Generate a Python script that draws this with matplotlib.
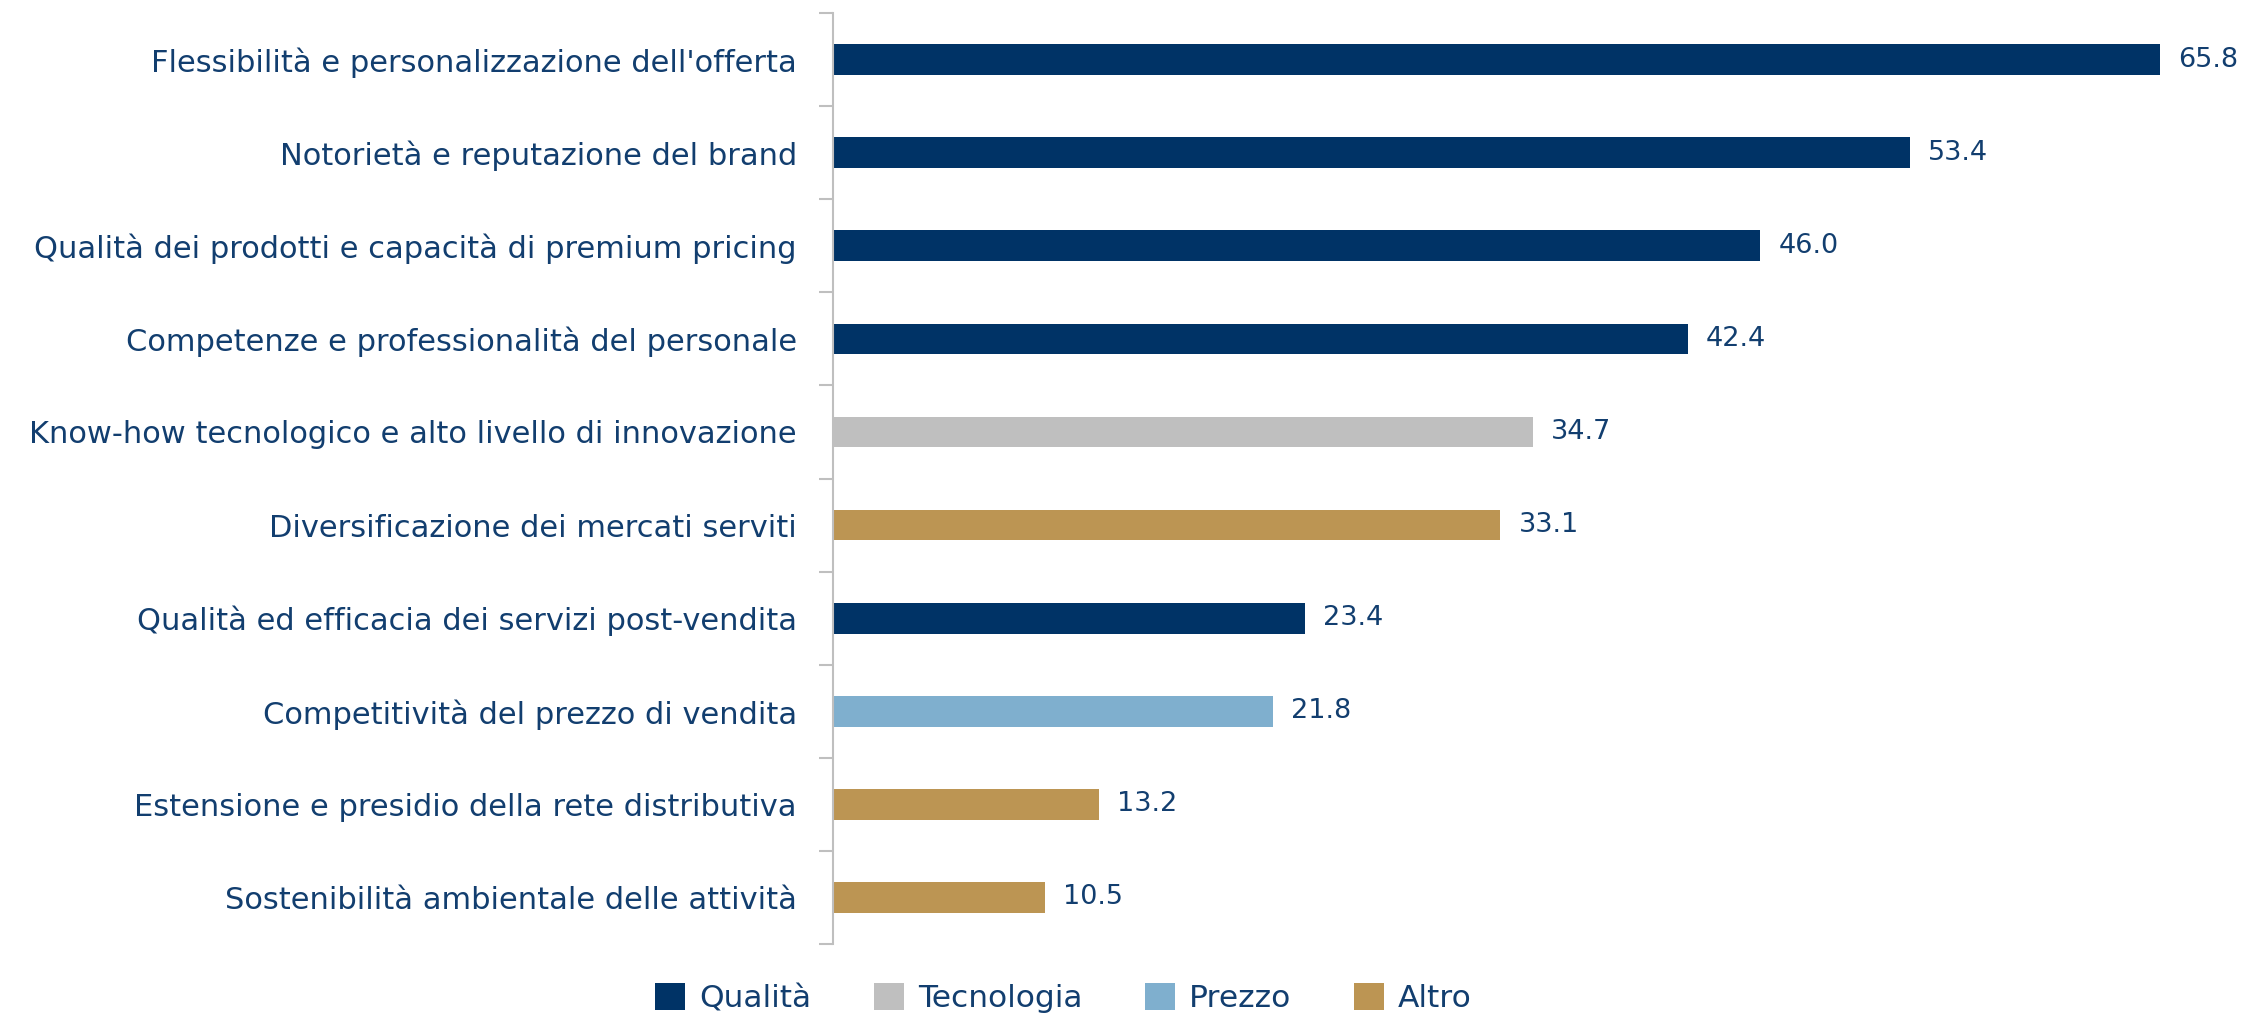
import numpy as np
import matplotlib.pyplot as plt
from matplotlib.patches import Patch

# Fattori competitivi (dall'alto in basso)
categories = [
    "Flessibilità e personalizzazione dell'offerta",
    "Notorietà e reputazione del brand",
    "Qualità dei prodotti e capacità di premium pricing",
    "Competenze e professionalità del personale",
    "Know-how tecnologico e alto livello di innovazione",
    "Diversificazione dei mercati serviti",
    "Qualità ed efficacia dei servizi post-vendita",
    "Competitività del prezzo di vendita",
    "Estensione e presidio della rete distributiva",
    "Sostenibilità ambientale delle attività",
]
values = [65.8, 53.4, 46.0, 42.4, 34.7, 33.1, 23.4, 21.8, 13.2, 10.5]
groups = ["Qualità", "Qualità", "Qualità", "Qualità", "Tecnologia",
          "Altro", "Qualità", "Prezzo", "Altro", "Altro"]

group_names = ["Qualità", "Tecnologia", "Prezzo", "Altro"]
group_colors = {"Qualità": "#003366", "Tecnologia": "#BFBFBF",
                "Prezzo": "#7FAFCE", "Altro": "#BC9553"}
text_color = "#123E6F"

plt.rcParams['font.family'] = ['DejaVu Sans']

fig = plt.figure(figsize=(22.44, 10.19), dpi=100)
ax = fig.add_axes([0.3712, 0.0736, 0.611, 0.9136])

y = np.arange(len(categories))
ax.barh(y, values, height=0.33, color=[group_colors[g] for g in groups])

for yi, v in zip(y, values):
    ax.text(v + 0.9, yi, f"{v:.1f}", va='center', ha='left',
            fontsize=19.5, color=text_color)

ax.set_xlim(0, 68)
ax.set_ylim(len(categories) - 0.5, -0.5)
ax.set_yticks(y)
ax.set_yticklabels(categories, fontsize=22, color=text_color)
ax.set_yticks(np.arange(len(categories) + 1) - 0.5, minor=True)
ax.tick_params(axis='y', which='major', length=0, pad=26)
ax.tick_params(axis='y', which='minor', length=10, width=1.5, color='#BFBFBF')
ax.set_xticks([])

for s in ['top', 'right', 'bottom']:
    ax.spines[s].set_visible(False)
ax.spines['left'].set_color('#BFBFBF')
ax.spines['left'].set_linewidth(1.5)

handles = [Patch(facecolor=group_colors[g], label=g) for g in group_names]
leg = fig.legend(handles=handles, loc='center', bbox_to_anchor=(0.474, 0.0206),
                 ncol=4, frameon=False, fontsize=22.5, handlelength=0.96,
                 handleheight=0.96, handletextpad=0.45, columnspacing=2.0,
                 borderpad=0)
for t in leg.get_texts():
    t.set_color(text_color)

fig.savefig("out.png", dpi=100)
